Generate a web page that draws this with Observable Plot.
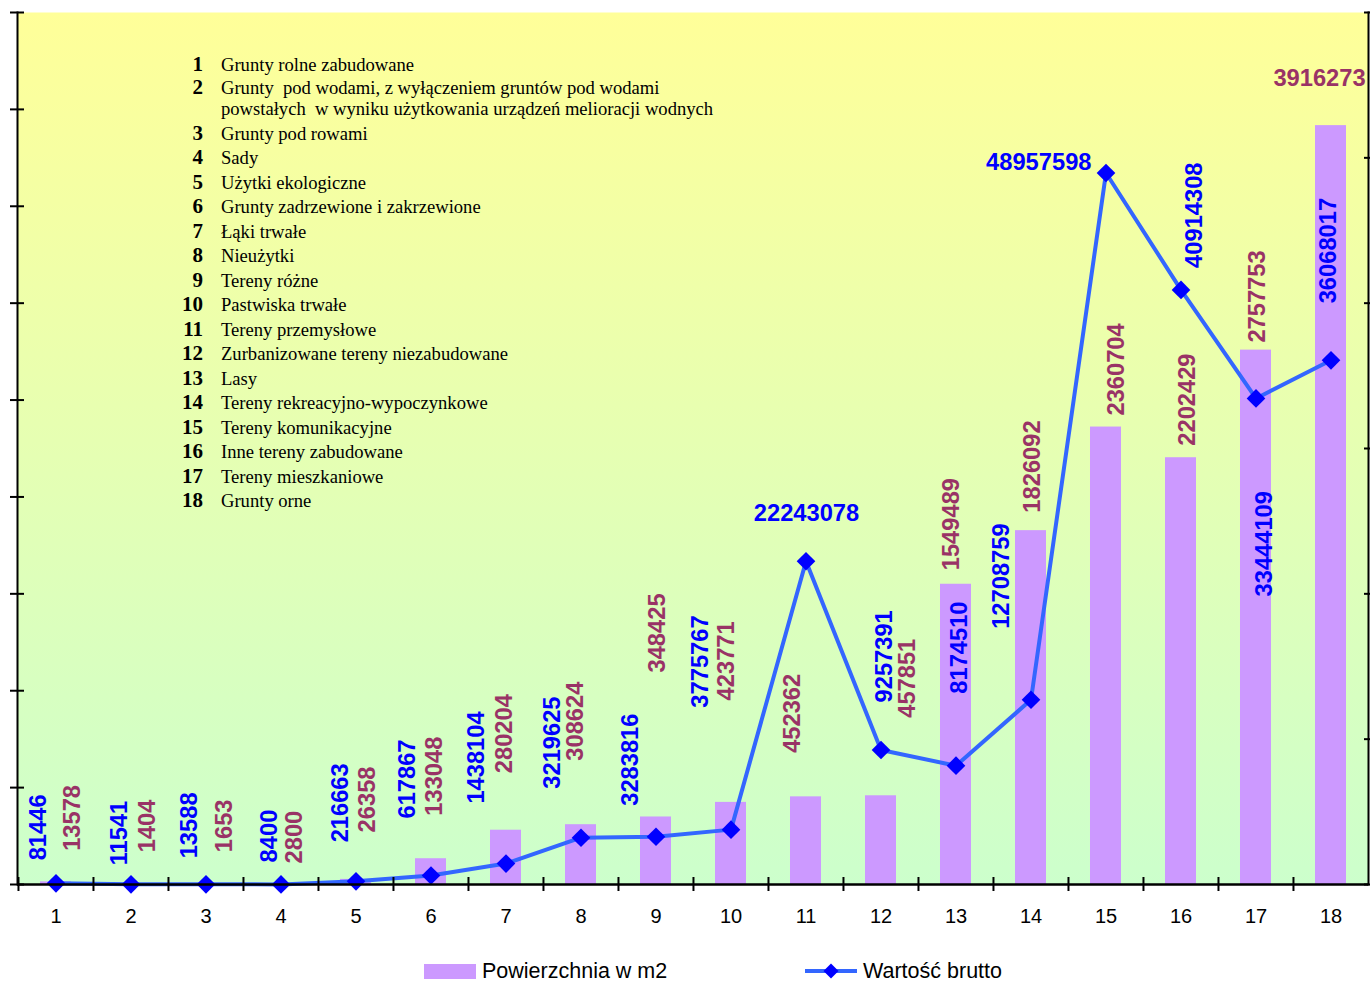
<!DOCTYPE html>
<html><head><meta charset="utf-8">
<script src="https://cdn.jsdelivr.net/npm/d3@7"></script>
<script src="https://cdn.jsdelivr.net/npm/@observablehq/plot@0.6"></script>
<style>
body{margin:0;background:#fff;}
#wrap{position:relative;width:1370px;height:984px;overflow:hidden;}
#list{position:absolute;left:171px;top:54px;font-family:"Liberation Serif","Times New Roman",serif;color:#000;}
#list .row{display:flex;margin-bottom:3.5px;}
#list .row.first{margin-bottom:2px;}
#list .num{width:32px;text-align:right;font-weight:bold;font-size:21px;line-height:21px;}
#list .txt{margin-left:18px;font-size:18.6px;line-height:21px;}
#legend{position:absolute;top:958px;left:0;width:1370px;height:26px;font-family:"Liberation Sans",Arial,sans-serif;font-size:21.5px;color:#000;}
#legend .item{position:absolute;top:0;display:flex;align-items:center;height:26px;}
</style></head><body><div id="wrap"></div>
<script>
// ---- data ----
const categories = [1,2,3,4,5,6,7,8,9,10,11,12,13,14,15,16,17,18];
const categoryNames = [
  "Grunty rolne zabudowane",
  "Grunty  pod wodami, z wyłączeniem gruntów pod wodami\npowstałych  w wyniku użytkowania urządzeń melioracji wodnych",
  "Grunty pod rowami",
  "Sady",
  "Użytki ekologiczne",
  "Grunty zadrzewione i zakrzewione",
  "Łąki trwałe",
  "Nieużytki",
  "Tereny różne",
  "Pastwiska trwałe",
  "Tereny przemysłowe",
  "Zurbanizowane tereny niezabudowane",
  "Lasy",
  "Tereny rekreacyjno-wypoczynkowe",
  "Tereny komunikacyjne",
  "Inne tereny zabudowane",
  "Tereny mieszkaniowe",
  "Grunty orne"
];
const areaValues = [13578,1404,1653,2800,26358,133048,280204,308624,348425,423771,452362,457851,1549489,1826092,2360704,2202429,2757753,3916273];
const grossValues = [81446,11541,13588,8400,216663,617867,1438104,3219625,3283816,3775767,22243078,9257391,8174510,12708759,48957598,40914308,33444109,36068017];
const seriesNames = ["Powierzchnia w m2", "Wartość brutto"];
const leftAxisMax = 4500000, leftTickStep = 500000;
const rightAxisMax = 60000000, rightTickStep = 10000000;

// ---- label layout (pixel offsets from each value's point) ----
const grossLabelLayout = [
  {dx:-17.5,dy:-23},{dx:-11.5,dy:-19},{dx:-16.5,dy:-26},{dx:-11.5,dy:-22},{dx:-15.5,dy:-39},
  {dx:-23.5,dy:-57},{dx:-29.5,dy:-60},{dx:-28.5,dy:-49},{dx:-25.5,dy:-31},{dx:-30.5,dy:-122},
  {dx:0.5,dy:-48,h:"middle"},{dx:3.5,dy:-47.5},{dx:3.5,dy:-72},{dx:-29.5,dy:-71},
  {dx:-14.5,dy:-10.5,h:"end"},{dx:13.5,dy:-22},{dx:8.5,dy:198},{dx:-2.5,dy:-57}
];
const areaLabelLayout = [
  {dx:16.5,dy:-31},{dx:16.5,dy:-32},{dx:18.5,dy:-32},{dx:13.5,dy:-20.5},{dx:11.5,dy:-47},
  {dx:3.5,dy:-43},{dx:-1.5,dy:-57},{dx:-5.5,dy:-64},{dx:1.5,dy:-144.5},{dx:-4.5,dy:-102},
  {dx:-13.5,dy:-44},{dx:26.5,dy:-78},{dx:-4.5,dy:-14},{dx:1.5,dy:-18},{dx:10.5,dy:-11.5},
  {dx:6.5,dy:-12},{dx:1.5,dy:-7.5},{dx:-11.5,dy:-47,h:"middle"}
];

const W = 1370, H = 950;
const mL = 17, mR = 2, mT = 12, mB = 66;
const k = leftAxisMax / rightAxisMax;
const data = categories.map((c, i) => ({cat: c, area: areaValues[i], gross: grossValues[i]}));
const step = (W - mL - mR) / categories.length;
const leftTicks = d3.range(0, leftAxisMax + 1, leftTickStep);
const rightTicks = d3.range(0, rightAxisMax + 1, rightTickStep).map(v => v * k);

const BAR = "#cc99ff", LINE = "#3366ff", MARK = "#0000ff", BLUE = "#0000ff", MAROON = "#993366";

function defsMark() {
  const ns = "http://www.w3.org/2000/svg";
  const defs = document.createElementNS(ns, "defs");
  const g = document.createElementNS(ns, "linearGradient");
  g.setAttribute("id", "bgGrad");
  g.setAttribute("x1", "0"); g.setAttribute("y1", "0"); g.setAttribute("x2", "0"); g.setAttribute("y2", "1");
  [["0%", "#ffff99"], ["100%", "#ccffcc"]].forEach(([o, c]) => {
    const s = document.createElementNS(ns, "stop");
    s.setAttribute("offset", o); s.setAttribute("stop-color", c);
    g.appendChild(s);
  });
  defs.appendChild(g);
  return defs;
}

const labelFont = {fontWeight: "bold", fontSize: 23.7, fontFamily: "Liberation Sans, Arial, sans-serif"};
const labelMarks = [];
data.forEach((d, i) => {
  const A = areaLabelLayout[i];
  labelMarks.push(Plot.text([d], {
    x: "cat", y: "area", text: r => String(r.area),
    rotate: A.h ? 0 : -90, textAnchor: A.h || "start", dx: A.dx, dy: A.dy,
    fill: MAROON, ...labelFont
  }));
  const G = grossLabelLayout[i];
  labelMarks.push(Plot.text([d], {
    x: "cat", y: r => r.gross * k, text: r => String(r.gross),
    rotate: G.h ? 0 : -90, textAnchor: G.h || "start", dx: G.dx, dy: G.dy,
    fill: BLUE, ...labelFont
  }));
});

const chart = Plot.plot({
  width: W, height: H,
  marginTop: mT, marginBottom: mB, marginLeft: mL, marginRight: mR,
  style: {fontFamily: "Liberation Sans, Arial, sans-serif", fontSize: "20px", background: "transparent", color: "#000", overflow: "visible"},
  x: {type: "band", domain: categories, paddingInner: 0.587, paddingOuter: 0.2935, axis: null},
  y: {domain: [0, leftAxisMax], axis: null},
  marks: [
    defsMark,
    Plot.frame({fill: "url(#bgGrad)", stroke: "none"}),
    Plot.barY(data, {x: "cat", y: "area", fill: BAR}),
    Plot.line(data, {x: "cat", y: d => d.gross * k, stroke: LINE, strokeWidth: 4}),
    Plot.dot(data, {x: "cat", y: d => d.gross * k, symbol: "diamond2", r: 8.4, fill: MARK, stroke: "none"}),
    ...labelMarks,
    Plot.frame({anchor: "left", stroke: "#000", strokeWidth: 2}),
    Plot.frame({anchor: "right", stroke: "#000", strokeWidth: 2}),
    Plot.ruleY([0], {stroke: "#000", strokeWidth: 2.5}),
    Plot.axisY(leftTicks, {anchor: "left", tickSize: 14, dx: 7, stroke: "#000", strokeWidth: 2, fill: "none", label: null}),
    Plot.axisY(rightTicks, {anchor: "right", tickSize: 7, dx: -5, stroke: "#000", strokeWidth: 2, fill: "none", label: null}),
    Plot.axisX({anchor: "bottom", tickSize: 14, dx: -step / 2, dy: -7, stroke: "#000", strokeWidth: 2, fill: "none", label: null}),
    Plot.axisX({anchor: "bottom", tickSize: 0, tickPadding: 24, fontSize: 20, fill: "#000", label: null})
  ]
});

const wrap = document.getElementById("wrap");
wrap.appendChild(chart);

// category list
const list = document.createElement("div");
list.id = "list";
categories.forEach((c, i) => {
  const row = document.createElement("div"); row.className = "row" + (i === 0 ? " first" : "");
  const n = document.createElement("div"); n.className = "num"; n.textContent = String(c);
  const t = document.createElement("div"); t.className = "txt";
  categoryNames[i].split("\n").forEach((line, j) => {
    if (j) t.appendChild(document.createElement("br"));
    t.appendChild(document.createTextNode(line));
  });
  t.style.whiteSpace = "pre";
  row.appendChild(n); row.appendChild(t);
  list.appendChild(row);
});
wrap.appendChild(list);

// legend
const legend = document.createElement("div");
legend.id = "legend";
legend.innerHTML =
  `<div class="item" style="left:424px"><span style="display:inline-block;width:52px;height:15px;background:${BAR}"></span><span style="margin-left:6px">${seriesNames[0]}</span></div>` +
  `<div class="item" style="left:805px"><svg width="52" height="20"><line x1="0" y1="10" x2="52" y2="10" stroke="${LINE}" stroke-width="4"/><path d="M26,2.5L33.5,10L26,17.5L18.5,10Z" fill="${MARK}"/></svg><span style="margin-left:6px">${seriesNames[1]}</span></div>`;
wrap.appendChild(legend);
</script>
</body></html>
